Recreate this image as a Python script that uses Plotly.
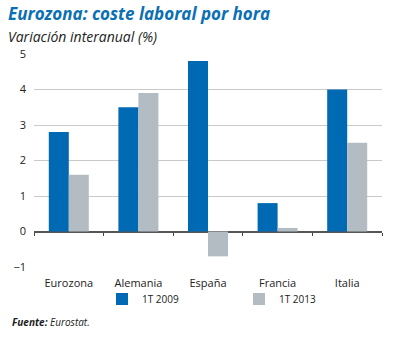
import plotly.graph_objects as go

categories = ["Eurozona", "Alemania", "España", "Francia", "Italia"]
series_2009 = [2.8, 3.5, 4.8, 0.8, 4.0]
series_2013 = [1.6, 3.9, -0.7, 0.1, 2.5]
series_names = ["1T 2009", "1T 2013"]
y_ticks = [-1, 0, 1, 2, 3, 4, 5]

FONT = "Open Sans"
BLUE = "#0069b4"
GRAY = "#b3bcc2"

fig = go.Figure()
fig.add_trace(go.Bar(x=categories, y=series_2009, name=series_names[0],
                     marker=dict(color=BLUE, line=dict(width=0))))
fig.add_trace(go.Bar(x=categories, y=series_2013, name=series_names[1],
                     marker=dict(color=GRAY, line=dict(width=0))))

fig.update_layout(
    width=402, height=338,
    margin=dict(l=34, r=20, t=54, b=71, autoexpand=False),
    paper_bgcolor="white", plot_bgcolor="white",
    barmode="group", bargap=0.425, bargroupgap=0,
    font=dict(family=FONT, size=11, color="#222"),
    showlegend=True,
    legend=dict(orientation="h", x=(102 - 34) / 348, xanchor="left", y=-(299 - 267) / 213, yanchor="middle",
                entrywidth=92, entrywidthmode="pixels",
                font=dict(size=10, color="#222"), itemsizing="constant",
                bgcolor="rgba(0,0,0,0)", traceorder="normal"),
    xaxis=dict(type="category", showgrid=False, showline=False, ticks="",
               tickfont=dict(size=11, color="#222"), ticklabelstandoff=8),
    yaxis=dict(range=[-1, 5], tickvals=y_ticks, showgrid=True, gridcolor="#c9c9c9",
               gridwidth=1, zeroline=True, zerolinecolor="#555", zerolinewidth=1.5,
               showline=False, ticks="", tickfont=dict(size=11, color="#222"),
               ticklabelstandoff=7),
    xaxis2=dict(overlaying="x", anchor="free", position=1/6, range=[-0.5, 4.5],
                tickvals=[-0.5, 0.5, 1.5, 2.5, 3.5, 4.5], ticks="outside", ticklen=3,
                tickwidth=1.2, tickcolor="#444", showticklabels=False, showgrid=False,
                showline=False, zeroline=False),
)

fig.add_annotation(text="<b><i>Eurozona: coste laboral por hora</i></b>", xref="paper", yref="paper",
                   x=-28/348, y=1 + (54 - 13) / 213, xanchor="left", yanchor="middle",
                   showarrow=False, font=dict(size=17, color="#0b6fb4", family=FONT))
fig.add_annotation(text="<i>Variación interanual (%)</i>", xref="paper", yref="paper",
                   x=-28/348, y=1 + (54 - 36) / 213, xanchor="left", yanchor="middle",
                   showarrow=False, font=dict(size=14, color="#222", family=FONT))
fig.add_annotation(text="<b><i>Fuente:</i></b><i> Eurostat.</i>", xref="paper", yref="paper",
                   x=-24/348, y=-(322 - 267) / 213, xanchor="left", yanchor="middle",
                   showarrow=False, font=dict(size=10, color="#222", family=FONT))

fig.add_trace(go.Scatter(x=[None], y=[None], xaxis="x2", showlegend=False, hoverinfo="skip"))

fig.write_html("out.html")
